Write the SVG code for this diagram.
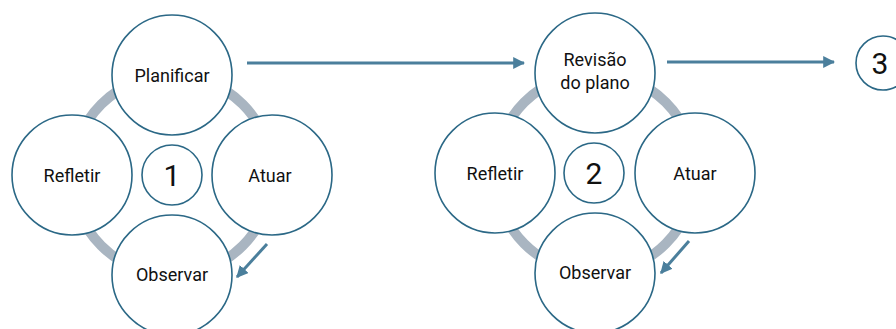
<svg xmlns="http://www.w3.org/2000/svg" width="896" height="329" viewBox="0 0 896 329">
  <style>
    .ring { fill: none; stroke: #a9b5c1; stroke-width: 10; }
    .node { fill: #ffffff; stroke: #2b6886; stroke-width: 1.6; }
    .lbl { font-family: Roboto, "Liberation Sans", sans-serif; font-size: 18px; fill: #111111; text-anchor: middle; }
    .num { font-family: Roboto, "Liberation Sans", sans-serif; font-size: 30px; fill: #111111; text-anchor: middle; }
    .arrow { fill: none; stroke: #4b7f9c; stroke-width: 3; marker-end: url(#head); }
  </style>
  <defs>
    <marker id="head" viewBox="0 0 10 10" refX="9" refY="5" markerWidth="4" markerHeight="4" markerUnits="strokeWidth" orient="auto">
      <path d="M0,0 L10,5 L0,10 Z" fill="#4b7f9c"/>
    </marker>
  </defs>

  <!-- cycle rings behind the nodes -->
  <circle class="ring" cx="172" cy="175" r="100"/>
  <circle class="ring" cx="595" cy="173" r="100"/>

  <g id="connectors">
    <line class="arrow" x1="247" y1="63" x2="524" y2="63"/>
    <line class="arrow" x1="667" y1="62" x2="834" y2="62"/>
    <line class="arrow" x1="267" y1="244" x2="237" y2="277"/>
    <line class="arrow" x1="689" y1="241" x2="661" y2="273"/>
  </g>

  <!-- cycle 1 -->
  <g id="planificar1"><circle class="node" cx="172" cy="75" r="60"/><text class="lbl" x="172" y="82">Planificar</text></g>
  <g id="refletir1"><circle class="node" cx="72" cy="175" r="60"/><text class="lbl" x="72" y="182">Refletir</text></g>
  <g id="atuar1"><circle class="node" cx="272" cy="175" r="60"/><text class="lbl" x="270" y="182">Atuar</text></g>
  <g id="observar1"><circle class="node" cx="172" cy="275" r="60"/><text class="lbl" x="172" y="281">Observar</text></g>
  <g id="num1"><circle class="node" cx="172" cy="175" r="30"/><text class="num" x="172" y="186">1</text></g>

  <!-- cycle 2 -->
  <g id="revisao2"><circle class="node" cx="595" cy="73" r="60"/><text class="lbl" x="595" y="66">Revisão</text><text class="lbl" x="595" y="89">do plano</text></g>
  <g id="refletir2"><circle class="node" cx="495" cy="173" r="60"/><text class="lbl" x="495" y="180">Refletir</text></g>
  <g id="atuar2"><circle class="node" cx="695" cy="173" r="60"/><text class="lbl" x="695" y="180">Atuar</text></g>
  <g id="observar2"><circle class="node" cx="595" cy="273" r="60"/><text class="lbl" x="595" y="279">Observar</text></g>
  <g id="num2"><circle class="node" cx="594" cy="173" r="30"/><text class="num" x="594" y="184">2</text></g>

  <!-- next cycle -->
  <g id="num3"><circle class="node" cx="883" cy="63" r="27"/><text class="num" x="880" y="74">3</text></g>
</svg>
